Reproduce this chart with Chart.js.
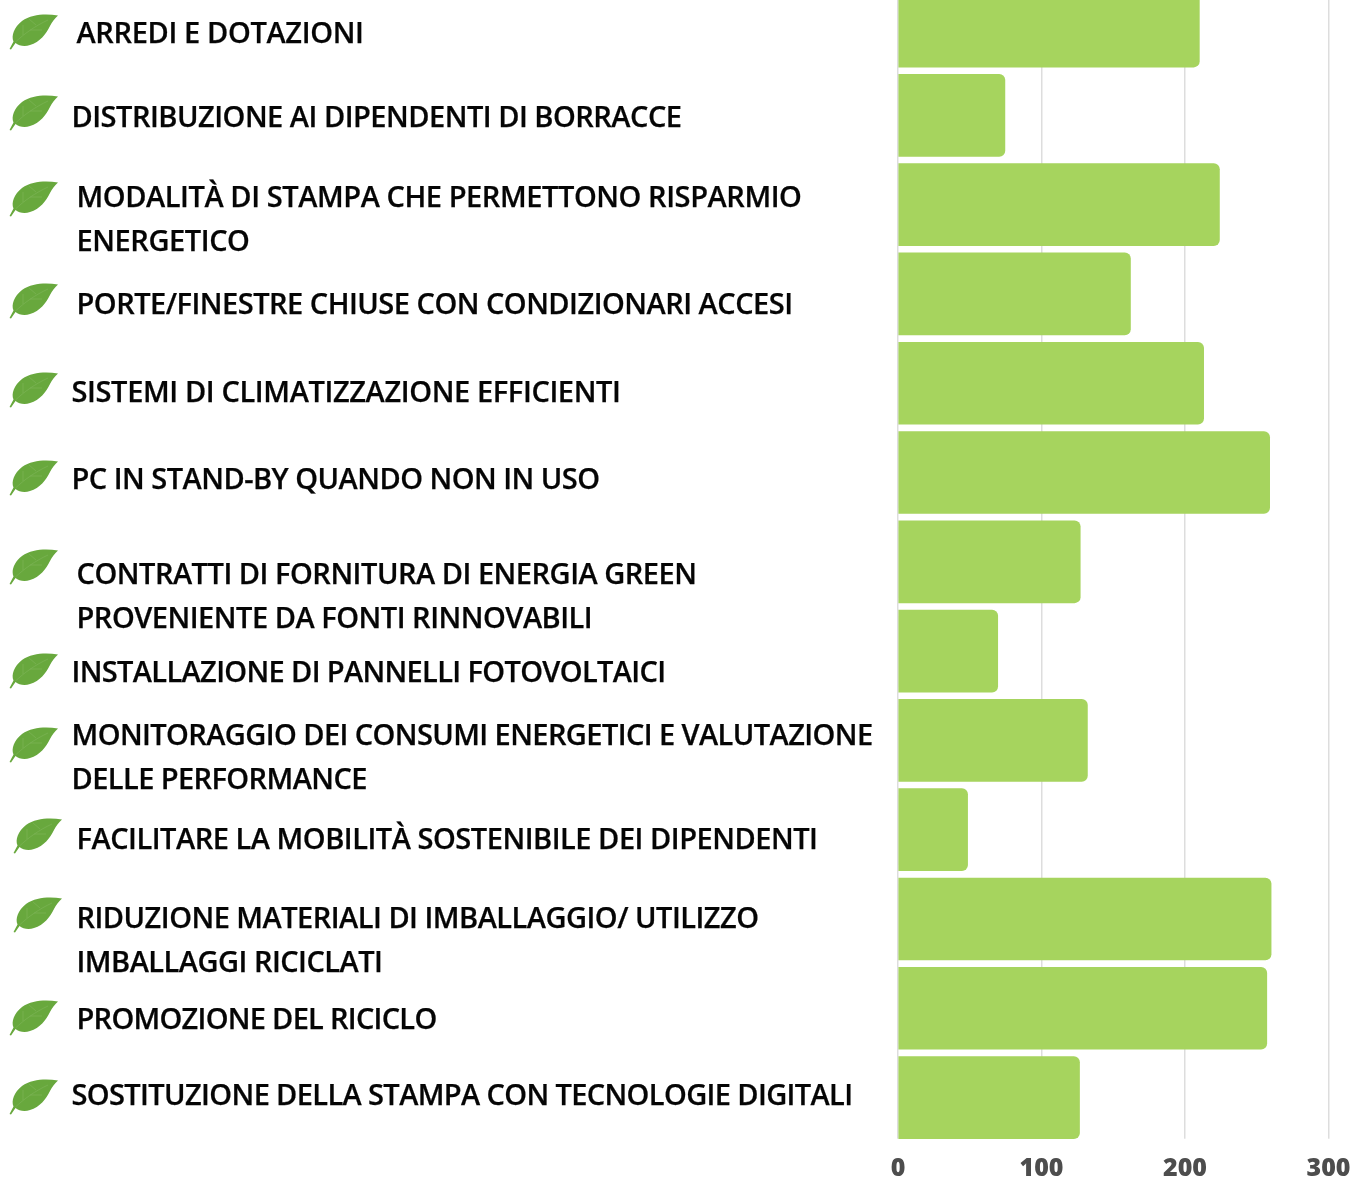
<!DOCTYPE html>
<html><head><meta charset="utf-8">
<script src="https://cdn.jsdelivr.net/npm/chart.js@4"></script>
<style>
html,body{margin:0;padding:0;background:#fff;width:1352px;height:1179px;overflow:hidden}
#wrap{position:absolute;left:0;top:0;width:1352px;height:1179px;overflow:hidden}
#cv{position:absolute;left:0;top:-30px}
.lab{position:absolute;white-space:nowrap;font:600 29px/44px "Open Sans",sans-serif;color:#050505;-webkit-text-stroke:.25px #050505;transform:translateY(-50%)}
.leaf{position:absolute;width:49px;height:36px;overflow:visible}
</style></head><body>
<div id="wrap"><canvas id="cv" width="1352" height="1209"></canvas></div>
<script>
const categories=["ARREDI E DOTAZIONI","DISTRIBUZIONE AI DIPENDENTI DI BORRACCE","MODALITÀ DI STAMPA CHE PERMETTONO RISPARMIO ENERGETICO","PORTE/FINESTRE CHIUSE CON CONDIZIONARI ACCESI","SISTEMI DI CLIMATIZZAZIONE EFFICIENTI","PC IN STAND-BY QUANDO NON IN USO","CONTRATTI DI FORNITURA DI ENERGIA GREEN PROVENIENTE DA FONTI RINNOVABILI","INSTALLAZIONE DI PANNELLI FOTOVOLTAICI","MONITORAGGIO DEI CONSUMI ENERGETICI E VALUTAZIONE DELLE PERFORMANCE","FACILITARE LA MOBILITÀ SOSTENIBILE DEI DIPENDENTI","RIDUZIONE MATERIALI DI IMBALLAGGIO/ UTILIZZO IMBALLAGGI RICICLATI","PROMOZIONE DEL RICICLO","SOSTITUZIONE DELLA STAMPA CON TECNOLOGIE DIGITALI"];
const values=[210,74.5,224,162,213,259,127,69.5,132,48.5,260,257,126.5];
const xTicks=[0,100,200,300];
const labelLines=[["ARREDI E DOTAZIONI"],["DISTRIBUZIONE AI DIPENDENTI DI BORRACCE"],["MODALITÀ DI STAMPA CHE PERMETTONO RISPARMIO","ENERGETICO"],["PORTE/FINESTRE CHIUSE CON CONDIZIONARI ACCESI"],["SISTEMI DI CLIMATIZZAZIONE EFFICIENTI"],["PC IN STAND-BY QUANDO NON IN USO"],["CONTRATTI DI FORNITURA DI ENERGIA GREEN","PROVENIENTE DA FONTI RINNOVABILI"],["INSTALLAZIONE DI PANNELLI FOTOVOLTAICI"],["MONITORAGGIO DEI CONSUMI ENERGETICI E VALUTAZIONE","DELLE PERFORMANCE"],["FACILITARE LA MOBILITÀ SOSTENIBILE DEI DIPENDENTI"],["RIDUZIONE MATERIALI DI IMBALLAGGIO/ UTILIZZO","IMBALLAGGI RICICLATI"],["PROMOZIONE DEL RICICLO"],["SOSTITUZIONE DELLA STAMPA CON TECNOLOGIE DIGITALI"]];
const labelX=[76.5,71.5,76.5,76.5,71.5,71.5,76.5,71.5,71.5,76.5,76.5,76.5,71.5];
const labelY=[32,116,196,303,391,478,573,671,734,838,917,1018,1094];
const lineWidths=[287,610,725,716,549,528,620,594,801,741,682,360,781];
const leafX=[10,10,10,10,10,10,10,10,10,14,14,10,10];
const leafY=[14,95,181,283,372,460,549,653,727,818,897,1000,1079];

const wrap=document.getElementById('wrap');
const leafSvg='<svg xmlns="http://www.w3.org/2000/svg" viewBox="0 0 49 36" class="leaf" style="left:LX;top:TY"><path d="M48 1.5C36-.5 22 0 12 7C4 13 1 22 3.5 27.5L-.5 35L1 35.5L5.5 29C9 32 15 33 20 31C30 28 36 20 40 12C42 8 45 4 48 1.5Z" fill="#68a83d"/><path d="M5.5 28C14 20 25 12 38 6M13 21L13 11M20 16L32 16M26 11L19 5" fill="none" stroke="#7fb65a" stroke-width=".6"/></svg>';
labelLines.forEach((lines,i)=>{
  wrap.insertAdjacentHTML('beforeend',leafSvg.replace('LX',leafX[i]+'px').replace('TY',leafY[i]+'px'));
  let ls=0;
  lines.forEach((t,j)=>{
    const d=document.createElement('div');d.className='lab';d.textContent=t;
    d.style.left=labelX[i]+'px';d.style.top=(labelY[i]+j*44)+'px';
    wrap.appendChild(d);
    if(j===0){ls=(lineWidths[i]-d.getBoundingClientRect().width)/t.length;}
    d.style.letterSpacing=ls+'px';
  });
});

const trimBottom={id:'trimBottom',beforeDatasetsDraw(c){
  const x=c.ctx;x.save();x.fillStyle='#fff';
  x.fillRect(c.chartArea.left-3,c.chartArea.bottom-3.5,c.chartArea.width+6,6);x.restore();}};
new Chart(document.getElementById('cv'),{
  type:'bar',
  data:{labels:categories,datasets:[{data:values,backgroundColor:'#a6d45e',borderSkipped:'left',
    borderRadius:{topLeft:0,bottomLeft:0,topRight:6,bottomRight:6},barThickness:82}]},
  plugins:[trimBottom],
  options:{indexAxis:'y',responsive:false,animation:false,
    layout:{padding:{left:898,right:23.5,top:11.4,bottom:0}},
    plugins:{legend:{display:false},tooltip:{enabled:false}},
    scales:{
      y:{display:true,grid:{display:false},border:{display:false},ticks:{display:false},afterFit(s){s.width=0}},
      x:{min:0,max:300,afterBuildTicks(s){s.ticks=xTicks.map(v=>({value:v}))},
        grid:{color:'#dddddd',lineWidth:1.5,drawTicks:false},border:{display:false},
        ticks:{padding:12,maxRotation:0,color:'#4d4d4d',font:{family:'"Open Sans"',size:25,weight:'800'}},
        afterFit(s){s.height=36.8;s.paddingLeft=0;s.paddingRight=0}}
    }}
});
</script></body></html>
